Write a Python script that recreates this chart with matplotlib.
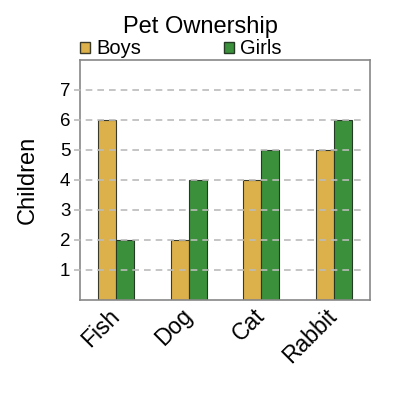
import numpy as np
import matplotlib
matplotlib.use("Agg")
from matplotlib import pyplot as plt
from matplotlib.patches import Patch

pets = ["Fish", "Dog", "Cat", "Rabbit"]
boys = [6, 2, 4, 5]
girls = [2, 4, 5, 6]
yticks = [1, 2, 3, 4, 5, 6, 7]

plt.rcParams['font.family'] = ['Liberation Sans', 'DejaVu Sans']

fig = plt.figure(figsize=(4, 4), dpi=100)
ax = fig.add_axes([0.2, 0.25, 0.725, 0.6])

x = np.arange(len(pets))
w = 0.25
ax.bar(x - w / 2, boys, w, color='#dcb04a', edgecolor='#3a3a2a', linewidth=0.8, zorder=2)
ax.bar(x + w / 2, girls, w, color='#3b903b', edgecolor='#243a24', linewidth=0.8, zorder=2)

ax.set_xlim(-0.5, 3.5)
ax.set_ylim(0, 8)
ax.set_yticks(yticks)
ax.set_yticklabels([str(v) for v in yticks], fontsize=13.5)
ax.set_xticks(x)
ax.set_xticklabels(pets, fontsize=16.5, rotation=45, ha='right', va='center',
                   rotation_mode='anchor')
ax.tick_params(length=0, pad=7)
ax.tick_params(axis='x', pad=9)
for v in yticks:
    ax.axhline(v, xmin=-0.02, xmax=0.97, color='#bbbbbb', linestyle=(0, (4, 3)),
               linewidth=1.2, zorder=3, clip_on=False)
for s in ax.spines.values():
    s.set_color('#888888')
    s.set_linewidth(1.2)

ax.set_ylabel("Children", fontsize=17, labelpad=15)
fig.text(0.5, 0.932, "Pet Ownership", ha='center', va='center', fontsize=17)

ax.legend(handles=[Patch(facecolor='#dcb04a', edgecolor='#3a3a2a'),
                   Patch(facecolor='#3b903b', edgecolor='#243a24')],
          labels=["Boys", "Girls"], ncol=2, loc='center left',
          bbox_to_anchor=(0, 1.046), frameon=False, fontsize=14.5,
          handlelength=0.5, handleheight=0.5, handletextpad=0.3,
          columnspacing=4.1, borderpad=0, borderaxespad=0)

fig.savefig("out.png")
